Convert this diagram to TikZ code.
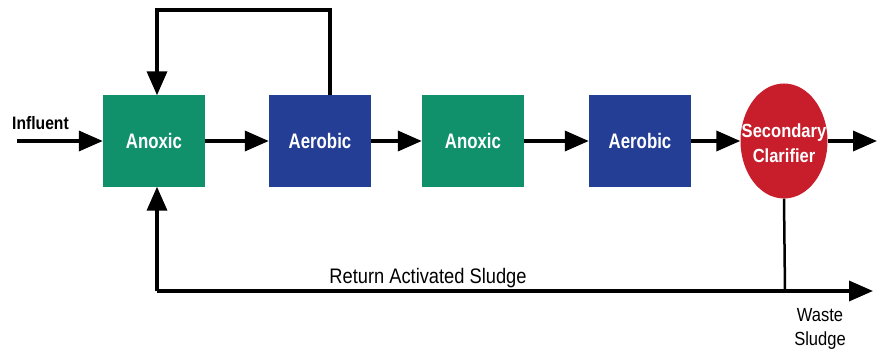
\documentclass[tikz,border=0pt]{standalone}
\usepackage{fontspec}
\setmainfont{Liberation Sans}
\newfontfamily\tankfont[FakeStretch=0.80]{Liberation Sans}
\newfontfamily\narrowfont[FakeStretch=0.87]{Liberation Sans}
\usetikzlibrary{arrows.meta,shapes.geometric}
\definecolor{anoxgreen}{RGB}{16,145,108}
\definecolor{aerblue}{RGB}{36,62,150}
\definecolor{clarred}{RGB}{200,30,44}
\tikzset{
  tank/.style={draw=none, minimum width=102pt, minimum height=91pt, inner sep=0pt, text=white, font=\tankfont\bfseries\fontsize{21}{24}\selectfont},
  anox/.style={tank, fill=anoxgreen},
  aer/.style={tank, fill=aerblue},
  clar/.style={ellipse, fill=clarred, minimum width=87pt, minimum height=115pt, inner sep=0pt},
  clartext/.style={text=white, align=center, inner sep=0pt, font=\narrowfont\bfseries\fontsize{19}{25}\selectfont},
  flow/.style={line width=3.5pt, -{Triangle[length=24pt,width=20pt]}},
  pipe/.style={line width=2.5pt},
  lbl/.style={font=\narrowfont\fontsize{21}{24}\selectfont, inner sep=0pt},
}
\begin{document}
\begin{tikzpicture}[x=1pt,y=1pt]
\useasboundingbox (0,0) rectangle (881,354);
\node[anox] (t1) at (154,213) {Anoxic};
\node[aer]  (t2) at (320,213) {Aerobic};
\node[anox] (t3) at (473,213) {Anoxic};
\node[aer]  (t4) at (640,213) {Aerobic};
\node[clar] (cl) at (784,213) {};
\node[clartext] (clt) at (784,211) {Secondary\\Clarifier};
\coordinate (in) at (17,213);
\coordinate (out) at (877,213);
\node[inner sep=0pt, font=\narrowfont\bfseries\fontsize{18}{20}\selectfont, anchor=base west] (inf) at (12,224) {Influent};
\draw[flow] (in) -- (t1.west);
\draw[flow] (t1.east) -- (t2.west);
\draw[flow] (t2.east) -- (t3.west);
\draw[flow] (t3.east) -- (t4.west);
\draw[flow] (t4.east) -- (cl.west);
\draw[flow] (cl.east) -- (out);
% internal recycle
\coordinate (r1) at (330,344);
\coordinate (r2) at (157,344);
\draw[flow] (t2.north -| r1) -- (r1) -- (r2) -- (r2 |- t1.north);
% return activated sludge
\coordinate (b1) at (785,63);
\coordinate (b2) at (157,63);
\coordinate (bend) at (873,63);
\draw[pipe] (cl.south) -- (b1);
\draw[flow] (b2) -- (bend);
\draw[flow] (b2) -- (b2 |- t1.south);
\node[lbl, anchor=base] (ras) at (428,71) {Return Activated Sludge};
\node[lbl, align=center, anchor=base, font=\narrowfont\fontsize{19}{24}\selectfont] (ws) at (820,9) {Waste\\Sludge};
\end{tikzpicture}
\end{document}
